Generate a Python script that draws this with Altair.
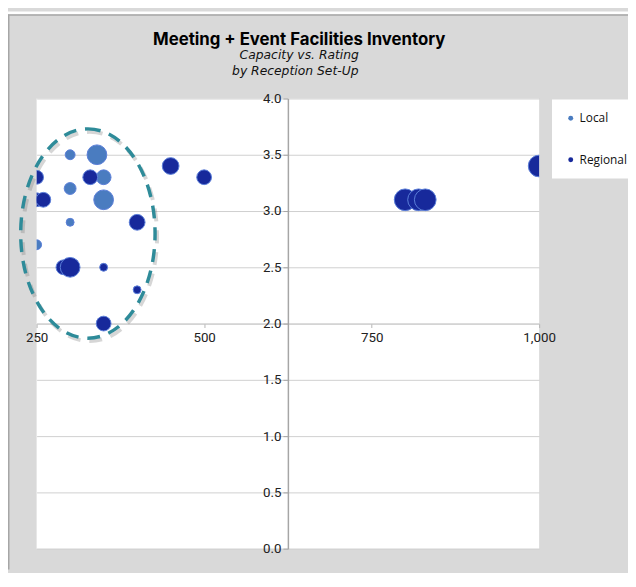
import altair as alt
import pandas as pd

# ---- data ----
local_capacity = [300, 340, 350, 300, 350, 300, 250]
local_rating = [3.5, 3.5, 3.3, 3.2, 3.1, 2.9, 2.7]
local_bubble = [25, 100, 56, 36, 100, 16, 25]

regional_capacity = [250, 330, 250, 260, 400, 290, 300, 350, 400, 350, 450, 500, 800, 820, 830, 1000]
regional_rating = [3.3, 3.3, 3.1, 3.1, 2.9, 2.5, 2.5, 2.5, 2.3, 2.0, 3.4, 3.3, 3.1, 3.1, 3.1, 3.4]
regional_bubble = [49, 56, 49, 56, 64, 56, 100, 16, 16, 56, 72, 56, 121, 121, 121, 121]

series = ["Local", "Regional"]
series_colors = ["#4a7cc0", "#17299b"]
x_ticks = [250, 500, 750, 1000]
y_ticks = [0, 0.5, 1.0, 1.5, 2.0, 2.5, 3.0, 3.5, 4.0]

title_text = "Meeting + Event Facilities Inventory"
subtitle_lines = ["Capacity vs. Rating", "by Reception Set-Up"]

# highlighted cluster (annotation ellipse centre)
ellipse_center_capacity = [326.5]
ellipse_center_rating = [2.8]

df = pd.DataFrame({
    "type": ["Local"] * len(local_capacity) + ["Regional"] * len(regional_capacity),
    "capacity": local_capacity + regional_capacity,
    "rating": local_rating + regional_rating,
    "bubble": local_bubble + regional_bubble,
})
df["order"] = range(len(df))

ell_df = pd.DataFrame({"cx": ellipse_center_capacity, "cy": ellipse_center_rating})

W, H = 509, 456
PAD = {"left": 29, "top": 88, "right": 90, "bottom": 21}

xscale = alt.Scale(domain=[250, 1000], nice=False, zero=False)
yscale = alt.Scale(domain=[0, 4], nice=False, zero=True)

xaxis = alt.Axis(values=x_ticks, format=",.0f", offset=-H / 2, grid=False,
                 domainColor="#c8c8c8", domainWidth=1, tickColor="#b5b5b5", tickSize=4,
                 labelFlush=False, labelFont="Roboto", labelFontSize=13.5, labelColor="#222222",
                 labelPadding=3, title=None)
yaxis = alt.Axis(values=y_ticks, format=".1f", offset=-(625 - 250) / 750 * W, grid=True,
                 gridColor="#cfcfcf", gridWidth=1, domainColor="#a6a6a6", domainWidth=1.5,
                 tickColor="#a6a6a6", tickSize=5, labelFont="Roboto", labelFontSize=13.5,
                 labelColor="#222222", labelPadding=2, title=None)

points = alt.Chart(df).mark_circle(clip=True, opacity=1, stroke="#5b7fd8", strokeWidth=1).encode(
    x=alt.X("capacity:Q", scale=xscale, axis=xaxis),
    y=alt.Y("rating:Q", scale=yscale, axis=yaxis),
    color=alt.Color("type:N", scale=alt.Scale(domain=series, range=series_colors),
                    legend=alt.Legend(title=None, orient="none", legendX=522, legendY=1,
                                      fillColor="white", padding=13, symbolType="circle",
                                      symbolSize=25, symbolStrokeWidth=0, rowPadding=30,
                                      labelFont="Open Sans", labelFontSize=12, labelColor="#111111",
                                      labelOffset=3)),
    size=alt.Size("bubble:Q", scale=alt.Scale(domain=[0, 121], range=[0, 484]), legend=None),
    order=alt.Order("order:Q"),
)

ellipse_path = "M 0 -1 A 0.642 1 0 1 1 0 1 A 0.642 1 0 1 1 0 -1 Z"
ell_size = 212 * 212

ell_shadow = alt.Chart(ell_df).mark_point(
    shape=ellipse_path, size=ell_size, filled=False, stroke="#777777", strokeOpacity=0.3,
    strokeWidth=4, strokeDash=[13, 9], xOffset=2, yOffset=3, opacity=1
).encode(x=alt.X("cx:Q", scale=xscale, axis=xaxis), y=alt.Y("cy:Q", scale=yscale, axis=yaxis))

ellipse = alt.Chart(ell_df).mark_point(
    shape=ellipse_path, size=ell_size, filled=False, stroke="#2e8b99",
    strokeWidth=3.5, strokeDash=[13, 9], opacity=1
).encode(x=alt.X("cx:Q", scale=xscale, axis=xaxis), y=alt.Y("cy:Q", scale=yscale, axis=yaxis))

one = alt.Data(values=[{"a": 1}])
top_white = alt.Chart(one).mark_rect(color="white").encode(
    x=alt.value(-PAD["left"]), x2=alt.value(W + PAD["right"]),
    y=alt.value(-PAD["top"]), y2=alt.value(-PAD["top"] + 3))
top_line = alt.Chart(one).mark_rule(color="#a6a6a6", strokeWidth=1.5).encode(
    x=alt.value(-PAD["left"]), x2=alt.value(W + PAD["right"]),
    y=alt.value(-PAD["top"] + 3.5))
left_line = alt.Chart(one).mark_rule(color="#a6a6a6", strokeWidth=1.5).encode(
    x=alt.value(-PAD["left"] + 0.75), y=alt.value(-PAD["top"] + 3),
    y2=alt.value(H + PAD["bottom"]))

title_cx = 266
title_mark = alt.Chart(alt.Data(values=[{"t": title_text}])).mark_text(
    font="Inter", fontSize=17, fontWeight="bold", color="#000000", align="center",
    baseline="alphabetic"
).encode(text="t:N", x=alt.value(title_cx), y=alt.value(-54))

sub_mark1 = alt.Chart(alt.Data(values=[{"t": subtitle_lines[0]}])).mark_text(
    font="DejaVu Sans", fontSize=12.5, fontStyle="italic", color="#111111", align="center",
    baseline="alphabetic"
).encode(text="t:N", x=alt.value(title_cx), y=alt.value(-39.5))

sub_mark2 = alt.Chart(alt.Data(values=[{"t": subtitle_lines[1]}])).mark_text(
    font="DejaVu Sans", fontSize=12.5, fontStyle="italic", color="#111111", align="center",
    baseline="alphabetic"
).encode(text="t:N", x=alt.value(title_cx - 4), y=alt.value(-23.5))

chart = alt.layer(top_white, top_line, left_line, title_mark, sub_mark1, sub_mark2,
                  points, ell_shadow, ellipse).properties(
    width=W, height=H,
    background="#d9d9d9",
    padding=PAD,
    autosize=alt.AutoSizeParams(type="none"),
).configure_view(fill="white", stroke=None)

chart.save("out.html", embed_options={"renderer": "svg", "actions": False})
